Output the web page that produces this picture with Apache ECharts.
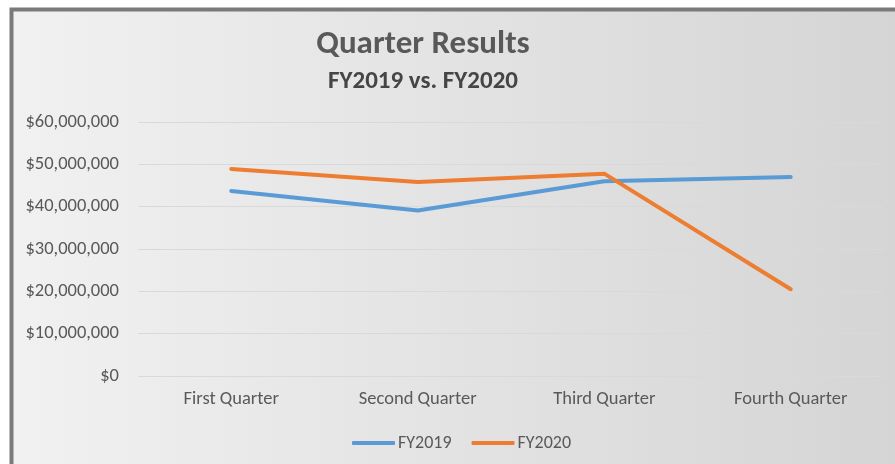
<!DOCTYPE html>
<html>
<head>
<meta charset="utf-8">
<title>Quarter Results</title>
<script src="https://cdn.jsdelivr.net/npm/echarts@6/dist/echarts.min.js"></script>
<style>
  html, body { margin: 0; padding: 0; background: #ffffff; }
  #chart { width: 895px; height: 464px; }
</style>
</head>
<body>
<div id="chart"></div>
<script>
// Quarterly revenue, two fiscal years
const quarters = ['First Quarter', 'Second Quarter', 'Third Quarter', 'Fourth Quarter'];
const fy2019 = [43700000, 39100000, 46000000, 47000000];
const fy2020 = [48900000, 45800000, 47800000, 20500000];
const seriesNames = ['FY2019', 'FY2020'];
const yTicks = { min: 0, max: 60000000, step: 10000000 };

const FONT = 'Calibri, Carlito, "Open Sans", sans-serif';
const TEXT = '#595959';

const chart = echarts.init(document.getElementById('chart'), null, { renderer: 'canvas' });

function money(v) {
  return '$' + Math.round(v).toString().replace(/\B(?=(\d{3})+(?!\d))/g, ',');
}

chart.setOption({
  animation: false,
  graphic: [{
    type: 'rect',
    z: -10,
    silent: true,
    shape: { x: 11.5, y: 9.5, width: 910, height: 480 },
    style: {
      fill: new echarts.graphic.LinearGradient(0, 0, 1, 0, [
        { offset: 0, color: '#f1f1f1' },
        { offset: 1, color: '#d4d4d4' }
      ]),
      stroke: '#7a7a7a',
      lineWidth: 4
    }
  }],
  title: [{
    text: 'Quarter Results',
    left: 418,
    top: 23,
    textAlign: 'center',
    textStyle: { fontFamily: FONT, fontWeight: 'bold', fontSize: 33, color: TEXT }
  }, {
    text: 'FY2019 vs. FY2020',
    left: 418,
    top: 64.5,
    textAlign: 'center',
    textStyle: { fontFamily: FONT, fontWeight: 'bold', fontSize: 25, color: '#454545' }
  }],
  legend: {
    data: seriesNames,
    left: 347,
    top: 429,
    icon: 'roundRect',
    itemWidth: 43,
    itemHeight: 4,
    itemGap: 20,
    textStyle: { fontFamily: FONT, fontSize: 18, color: TEXT, padding: [0, 0, 0, -2] }
  },
  grid: { left: 138, right: 11, top: 122, bottom: 88, containLabel: false },
  xAxis: {
    type: 'category',
    data: quarters,
    boundaryGap: true,
    axisLine: { show: false },
    axisTick: { show: false },
    splitLine: { show: false },
    axisLabel: { fontFamily: FONT, fontSize: 18.5, color: TEXT, margin: 14 }
  },
  yAxis: {
    type: 'value',
    min: yTicks.min,
    max: yTicks.max,
    interval: yTicks.step,
    axisLine: { show: false },
    axisTick: { show: false },
    splitLine: { lineStyle: { color: '#d9d9d9', width: 1 } },
    axisLabel: { fontFamily: FONT, fontSize: 18.5, color: TEXT, margin: 19, formatter: money }
  },
  series: [{
    name: seriesNames[0],
    type: 'line',
    data: fy2019,
    symbol: 'none',
    color: '#5b9bd5',
    lineStyle: { width: 4, color: '#5b9bd5', cap: 'round', join: 'round' }
  }, {
    name: seriesNames[1],
    type: 'line',
    data: fy2020,
    symbol: 'none',
    color: '#ed7d31',
    lineStyle: { width: 4, color: '#ed7d31', cap: 'round', join: 'round' }
  }]
});
</script>
</body>
</html>
